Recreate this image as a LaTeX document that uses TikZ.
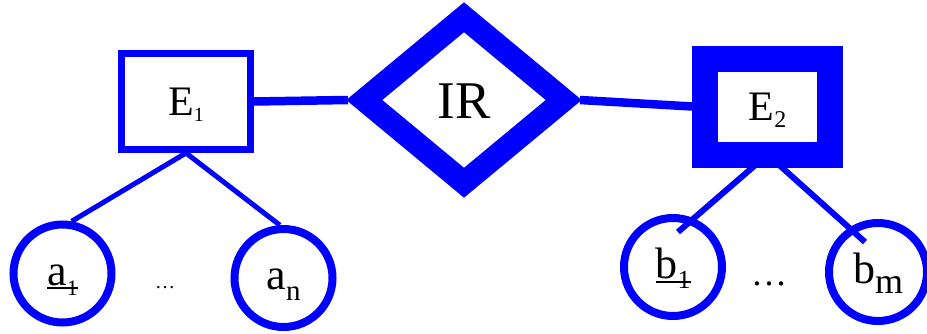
\documentclass[tikz,border=0pt]{standalone}
\usepackage{fontspec}
\setmainfont{Liberation Serif}
\usetikzlibrary{shapes,positioning}
\tikzstyle{entity} = [draw=blue,fill=white,line width=7pt,rectangle,inner sep=0,minimum width=129pt,minimum height=96pt,text height=30pt,text depth=3pt,font=\fontsize{42}{42}\selectfont]
\tikzstyle{weakentity} = [entity,line width=26pt,minimum width=125pt]
\tikzstyle{relation} = [draw=blue,fill=white,line width=23pt,diamond,inner sep=0,minimum width=209pt,minimum height=175pt,text height=40pt,text depth=4pt,font=\fontsize{53}{53}\selectfont]
\tikzstyle{attribute} = [draw=blue,line width=8pt,circle,inner sep=0,minimum size=98pt,text height=30pt,text depth=7pt,font=\fontsize{44}{44}\selectfont]
\tikzstyle{link} = [-,draw=blue,line width=5pt]
\def \tu {8.5pt}
% letter, subscript, subscript size, drop
\newcommand{\attrlabel}[4]{#1\lower#4pt\hbox{\fontsize{#3}{#3}\selectfont #2}}
\newcommand{\keylabel}[4]{\setbox0\hbox{\attrlabel{#1}{#2}{#3}{#4}}\rlap{\rule[-4pt]{\wd0}{2pt}}\box0}

\begin{document}
\begin{tikzpicture}[x=1pt,y=1pt]
  \useasboundingbox (0,0) rectangle (927,333);
  \node[entity] (E1) at (186,231.5) {\attrlabel{E}{1}{20}{6}};
  \node[relation] (IR) at (464,233) {IR};
  \node[weakentity] (E2) at (767.5,226.5) {\attrlabel{E}{2}{24}{7}};
  \node[attribute] (a1) at (62.5,59.5) {\keylabel{a}{1}{22}{10}};
  \node[attribute] (an) at (283.5,55) {\attrlabel{a}{n}{29}{11}};
  \node[attribute] (b1) at (673,66) {\keylabel{b}{1}{26}{10}};
  \node[attribute] (bm) at (878,61) {\attrlabel{b}{m}{36}{10}};
  \node[anchor=base,inner sep=0,font=\fontsize{20}{20}\selectfont] (adots) at (165,45) {\dots};
  \node[anchor=base,inner sep=0,font=\fontsize{36}{36}\selectfont] (bdots) at (769,48) {\dots};
  \coordinate (b1 end) at ([shift={(5,35)}]b1.center);
  \coordinate (bm end) at ([shift={(-13,30)}]bm.center);
  \draw[link,line width=\tu] (E1.east) -- (IR.west);
  \draw[link,line width=\tu] (IR.east) -- (E2.west);
  \draw[link] (E1.south) -- (a1.80);
  \draw[link] (E1.south) -- (an.94);
  \draw[link,line width=6pt] ([yshift=13pt]E2.south) -- (b1 end);
  \draw[link,line width=6pt] ([yshift=13pt]E2.south) -- (bm end);
\end{tikzpicture}
\end{document}
